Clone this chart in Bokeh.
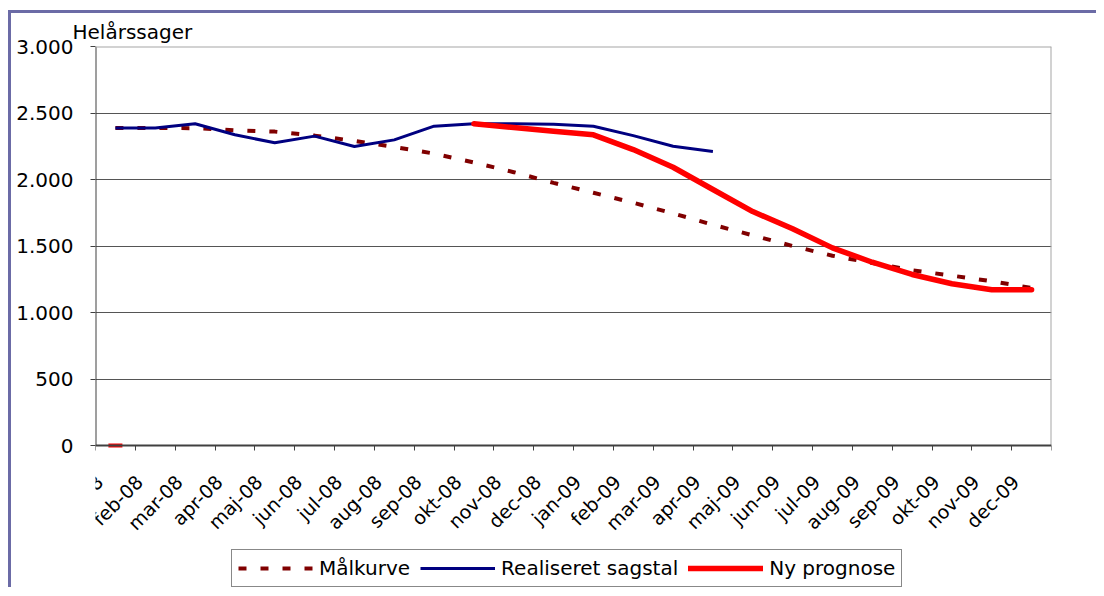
import numpy as np
from math import pi, nan
from bokeh.plotting import figure
from bokeh.models import (FixedTicker, CustomJSTickFormatter, Span, Legend,
                          LegendItem, Range1d)
from bokeh.embed import file_html
from bokeh.resources import INLINE

months = ["jan-08", "feb-08", "mar-08", "apr-08", "maj-08", "jun-08",
          "jul-08", "aug-08", "sep-08", "okt-08", "nov-08", "dec-08",
          "jan-09", "feb-09", "mar-09", "apr-09", "maj-09", "jun-09",
          "jul-09", "aug-09", "sep-09", "okt-09", "nov-09", "dec-09"]

maalkurve = [2388, 2387, 2386, 2370, 2360, 2330, 2290, 2245, 2195, 2128,
             2055, 1975, 1900, 1825, 1745, 1660, 1580, 1500, 1427, 1372,
             1318, 1277, 1235, 1185]

realiseret = [2388, 2388, 2419, 2336, 2276, 2326, 2248, 2298, 2401, 2419,
              2419, 2416, 2401, 2330, 2250, 2211,
              nan, nan, nan, nan, nan, nan, nan, nan]

ny_prognose = [0, nan, nan, nan, nan, nan, nan, nan, nan,
               2419, 2391, 2363, 2336, 2225, 2092, 1925, 1759, 1629, 1486,
               1378, 1286, 1216, 1171, 1171]

y_ticks = [0, 500, 1000, 1500, 2000, 2500, 3000]

FONT = "DejaVu Sans"
n = len(months)
x = np.arange(n) + 0.5

# the value area is 399 px tall; the frame continues below it to hold the
# month labels and the legend
PLOT_H = 399
FRAME_H = 541
y_top = y_ticks[-1]
y_bottom = y_top - FRAME_H * (y_ticks[-1] - y_ticks[0]) / PLOT_H

p = figure(width=1085, height=574, frame_width=956, frame_height=FRAME_H,
           x_range=Range1d(0, n), y_range=Range1d(y_bottom, y_top),
           output_backend="svg", toolbar_location=None,
           min_border_left=84, min_border_right=45, min_border_top=33,
           min_border_bottom=0,
           background_fill_color="white", border_fill_color="white",
           title="Helårssager",
           styles={"margin-left": "8px", "margin-top": "10px",
                   "border-left": "3px solid #6b6ba6",
                   "border-top": "3px solid #6b6ba6"})

p.title.text_font = FONT
p.title.text_font_size = "20px"
p.title.text_font_style = "normal"
p.title.text_color = "black"
p.title.align = "left"
p.title.offset = -23
p.title.standoff = 6

# x axis drawn at y = 0, labels slightly left of each category centre
xa = p.xaxis[0]
xa.fixed_location = y_ticks[0]
xa.ticker = FixedTicker(ticks=list(x - 0.4), minor_ticks=list(range(n + 1)))
xa.formatter = CustomJSTickFormatter(args=dict(labels=months), code="""
    const i = Math.round(tick);
    return (i >= 0 && i < labels.length) ? labels[i] : '';
""")
xa.major_label_orientation = pi / 4
xa.major_tick_out = 0
xa.major_tick_in = 0
xa.minor_tick_out = 5
xa.minor_tick_in = 0
xa.minor_tick_line_color = "#404040"
xa.minor_tick_line_width = 1
xa.axis_line_color = "#404040"
xa.axis_line_width = 2
xa.major_label_text_font = FONT
xa.major_label_text_font_size = "19px"
xa.major_label_text_color = "black"
xa.major_label_standoff = 28

# y axis (its line is drawn only over the value area, below)
ya = p.yaxis[0]
ya.ticker = FixedTicker(ticks=y_ticks, minor_ticks=[])
ya.formatter = CustomJSTickFormatter(code="""
    const v = Math.round(tick);
    if (v >= 1000) {
        return Math.floor(v / 1000) + '.' + String(v % 1000).padStart(3, '0');
    }
    return String(v);
""")
ya.major_tick_out = 5
ya.major_tick_in = 0
ya.major_tick_line_color = "#404040"
ya.minor_tick_line_color = None
ya.axis_line_color = None
ya.major_label_text_font = FONT
ya.major_label_text_font_size = "20px"
ya.major_label_text_color = "black"
ya.major_label_standoff = 17

p.xgrid.visible = False
p.ygrid.ticker = FixedTicker(ticks=y_ticks[1:-1])
p.ygrid.grid_line_color = "#555555"
p.ygrid.grid_line_width = 1

p.outline_line_color = None
p.add_layout(Span(location=y_ticks[-1], dimension="width",
                  line_color="#a6a6a6", line_width=2))
# right edge (grey) and left axis line (dark) of the value area
p.segment(x0=[n], y0=[y_ticks[0]], x1=[n], y1=[y_ticks[-1]],
          line_color="#a6a6a6", line_width=2)
p.segment(x0=[0], y0=[y_ticks[0]], x1=[0], y1=[y_ticks[-1]],
          line_color="#404040", line_width=2)

r_maal = p.line(x, maalkurve, line_color="#800000", line_width=4,
                line_dash="8 14", line_cap="butt")
r_real = p.line(x, realiseret, line_color="#000080", line_width=3,
                line_join="round")
r_ny = p.line(x, ny_prognose, line_color="#ff0000", line_width=5.5,
              line_join="round", line_cap="round")

# isolated points of the forecast series (no neighbours) shown as a dash
ny = np.array(ny_prognose, dtype=float)
iso = [i for i in range(n)
       if not np.isnan(ny[i])
       and (i == 0 or np.isnan(ny[i - 1]))
       and (i == n - 1 or np.isnan(ny[i + 1]))]
if iso:
    p.scatter(x[iso], ny[iso], marker="dash", size=14,
              line_color="#ff0000", line_width=4)

legend = Legend(items=[
    LegendItem(label="Målkurve", renderers=[r_maal]),
    LegendItem(label="Realiseret sagstal", renderers=[r_real]),
    LegendItem(label="Ny prognose", renderers=[r_ny]),
], orientation="horizontal", location=(136, 0))
legend.border_line_color = "#111111"
legend.border_line_width = 1.5
legend.background_fill_color = "white"
legend.background_fill_alpha = 1.0
legend.padding = 6
legend.spacing = 10
legend.margin = 0
legend.glyph_width = 75
legend.glyph_height = 20
legend.label_standoff = 6
legend.label_text_font = FONT
legend.label_text_font_size = "20px"
legend.label_text_color = "black"
p.add_layout(legend)

open("out.html", "w").write(file_html(p, INLINE))
